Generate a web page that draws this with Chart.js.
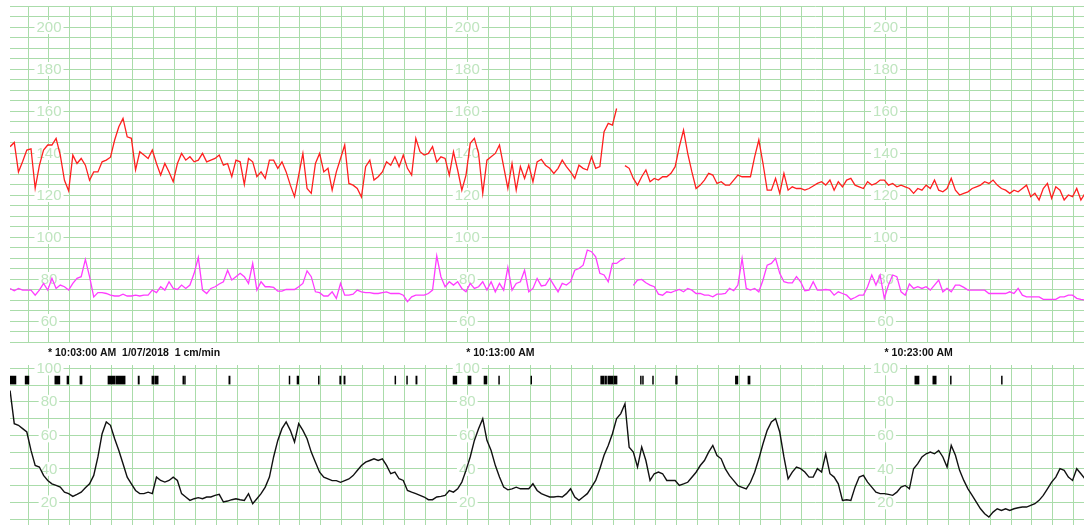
<!DOCTYPE html>
<html>
<head>
<meta charset="utf-8">
<script src="https://cdn.jsdelivr.net/npm/chart.js@4/dist/chart.umd.min.js"></script>
<style>
  html, body { margin: 0; padding: 0; background: #fff; overflow: hidden; }
  #wrap { position: relative; width: 1084px; height: 525px; }
  canvas { position: absolute; left: 0; }
  #hr { top: 0; }
  #uc { top: 343px; }
</style>
</head>
<body>
<div id="wrap">
  <canvas id="hr" width="1084" height="345"></canvas>
  <canvas id="uc" width="1084" height="182"></canvas>
</div>
<script>
// Trace samples: time in minutes after 10:00, one sample every 6 seconds
const sampleStart = 2.07;
const sampleStep = 0.1;

// Fetal heart rate (bpm)
const fhr = [
  143, 145, 131, 136, 141.4, 142, 123.2, 134, 141.4, 143.8,
  143.8, 147, 139, 127, 122, 139, 135, 137.4, 134.2, 127,
  131, 131, 135.8, 136.6, 138, 146.2, 152.5, 156.5, 147.7, 147,
  132, 140.6, 139, 137.4, 141.4, 135, 129.5, 135, 131, 126.3,
  135, 139.8, 136.6, 138.2, 135.8, 136.6, 139.8, 135.8, 136.6, 137.4,
  139, 134.2, 135, 128.7, 136.6, 135.8, 125, 137.4, 135.8, 128.7,
  131, 127.9, 136.6, 136.6, 132.7, 135.8, 131, 124.7, 119.2, 129.5,
  139.8, 123.1, 120.8, 135, 139.8, 131, 132.7, 122.3, 131, 137.4,
  143.8, 125.5, 124.7, 123.1, 119, 133.5, 136.6, 127.1, 128.7, 131,
  135.8, 134.2, 138.2, 133.5, 139, 132.7, 129.5, 147, 140.6, 139,
  139.8, 143, 135.8, 138.2, 137.4, 129.5, 140.6, 131.9, 122.3, 129.5,
  144.6, 147, 139.8, 120.8, 136.6, 138.2, 139.8, 143.8, 133.5, 123.2,
  135, 122.3, 133.5, 127.9, 134.2, 126.3, 135.8, 137, 134.2, 132.7,
  130.3, 132.7, 136.6, 133.5, 131, 127.9, 134.2, 132.7, 131.9, 138.2,
  132.7, 133.5, 150.1, 154.1, 153.3, 161.2, null, 134, 132.7, 127.9,
  124.7, 128.7, 131.9, 126.3, 127.9, 127.1, 128.7, 128.7, 130.3, 133.5,
  143, 150.9, 139.8, 131, 123.1, 124.7, 127.1, 130.3, 129.5, 125.5,
  126.3, 124.7, 124.7, 127.1, 129.5, 128.7, 128.7, 128.7, 138.2, 146.2,
  135, 122.3, 122.3, 127.9, 120.8, 130.3, 122.3, 123.9, 123.1, 123.1,
  122.3, 123.1, 124.3, 125.5, 126.3, 124.7, 127.1, 122.3, 126.3, 123.9,
  127.1, 127.9, 124.7, 123.9, 123.1, 126.3, 124.7, 125.5, 127.1, 127.1,
  124.7, 125.5, 123.9, 124.7, 123.9, 123.1, 120.8, 123.1, 122.3, 124.7,
  123.1, 127.1, 122.3, 121.5, 123.1, 127.9, 122.3, 120, 120.8, 121.5,
  123.1, 123.9, 124.7, 126.3, 125.5, 127.1, 124.7, 123.1, 122.3, 120.8,
  122.3, 121.5, 123.1, 124.7, 119.2, 120.8, 117.6, 123.1, 125.5, 118.4,
  123.9, 122.3, 117.6, 120, 119.2, 123.1, 117.6, 120.8
];

// Maternal heart rate (bpm)
const mhr = [
  75.5, 74.4, 75.5, 74.7, 74.7, 74.7, 72.3, 74.7, 77.9, 74.7,
  80.3, 75.5, 77.1, 76.3, 74.7, 77.9, 80.3, 81.1, 89.3, 81.1,
  71.5, 73.5, 73.5, 73.1, 72.3, 71.9, 71.9, 72.8, 71.9, 71.9,
  72.3, 71.9, 72.3, 72.3, 74.7, 73.5, 76.3, 74.7, 78.7, 75.5,
  75, 77.1, 75.5, 77.1, 82.7, 90.3, 74.7, 73.1, 75.5, 76.3,
  77.6, 78.7, 84.2, 79.5, 81.1, 82.7, 81.1, 77.9, 87.4, 74.7,
  78.7, 76.3, 76.3, 76, 74.2, 74.2, 75, 75, 75, 76.3,
  77.9, 83.9, 81.1, 73.9, 73.5, 71.9, 71.9, 73.9, 70.8, 77.9,
  72.3, 72.3, 72.8, 74.7, 73.9, 73.5, 73.5, 73.1, 73.1, 73.5,
  73.9, 73.1, 73.1, 73.1, 72.3, 69.2, 71.5, 72.3, 72.3, 72.3,
  73.1, 74.7, 91, 81.1, 76.3, 78.7, 77.1, 78.7, 75.5, 73.9,
  77.9, 75.5, 76.3, 78.7, 74.7, 78.7, 73.9, 77.9, 74.7, 85.5,
  74.7, 77.9, 78.7, 84.2, 73.9, 75.5, 80.3, 76.7, 77.1, 80.3,
  77.1, 73.9, 77.9, 77.1, 78.7, 84.2, 85, 86.6, 93.8, 93,
  90.6, 82.7, 81.9, 78.7, 87.4, 87.4, 89, 90, null, 77,
  79.5, 79.8, 78.2, 77.1, 76.3, 72.8, 72.3, 73.9, 73.5, 74.4,
  75, 73.9, 75.5, 74.7, 73.1, 73.1, 72.3, 72.3, 71.5, 72.8,
  72.8, 73.1, 75.5, 74.4, 77.1, 89.8, 75.5, 74.7, 75.5, 73.9,
  79.5, 86.6, 87.4, 89.8, 82.7, 78.7, 78.2, 78.2, 81.1, 78.7,
  74.4, 74.7, 78.7, 74.7, 74.7, 75, 74.7, 72.3, 73.9, 73.1,
  72.3, 70.3, 71.2, 72.3, 72.3, 76.3, 81.9, 77.1, 81.9, 70.8,
  77.1, 81.9, 81.1, 73.9, 72.3, 77.6, 75.5, 76.3, 75.5, 76.3,
  74.7, 77.1, 79.5, 73.9, 75.5, 73.9, 77.1, 77.1, 76, 74.7,
  74.7, 74.7, 74.7, 74.7, 73.1, 73.1, 73.1, 73.1, 73.1, 73.9,
  73.1, 75.5, 72.3, 71.5, 71.5, 71.5, 71.5, 70.3, 70.3, 70.3,
  70.3, 71.5, 71.5, 72.3, 72.3, 70.8, 70.3, 70
];

// Uterine activity (TOCO units)
const toco = [
  86.8, 67, 66, 64, 62, 51, 42.1, 41.1, 36.1, 33.1,
  31.1, 30.1, 29.1, 26.1, 25.2, 23.6, 24.8, 26.1, 28.7, 31.1,
  36.1, 47.1, 61, 68, 66, 58, 51, 43.1, 35.1, 31.1,
  27.1, 25.2, 25.2, 26.1, 25.2, 35.1, 33.1, 32.1, 33.1, 35.1,
  33.1, 25.2, 23.2, 21.2, 22.2, 22.8, 22.2, 23.2, 23.2, 24.2,
  24.8, 20.2, 20.8, 21.6, 22.2, 21.6, 21.2, 25.2, 19.2, 22.2,
  25.2, 29.1, 35.1, 47.1, 57, 64, 68, 63, 56, 67,
  63, 58, 50, 44, 38, 35, 34, 33, 33, 32,
  33, 34, 36, 39, 42, 44, 45, 46, 45, 46,
  42.1, 37.1, 38.1, 34.1, 33.1, 27.1, 26.1, 25.2, 24.2, 23.2,
  21.6, 21.6, 23.2, 23.6, 24.2, 27.1, 26.1, 28.1, 32.1, 39.1,
  47.1, 57, 64, 70, 57, 51, 42.1, 35.1, 29.1, 27.5,
  28.1, 29.1, 28.1, 28.1, 28.1, 31.1, 27.1, 25.2, 24.2, 23.2,
  23.2, 23.6, 23.2, 25.2, 28.1, 23.2, 21.2, 23.2, 25.2, 29.1,
  33.1, 40.1, 48.1, 54, 61, 70, 73, 78.9, 53, 50,
  41.1, 53, 45, 33.1, 37.1, 38.1, 37.1, 33.1, 33.1, 33.1,
  30.1, 31, 32, 35, 38, 42, 45, 50, 54, 48,
  46, 40, 36, 33, 30, 29, 28, 32, 38, 46,
  55, 63, 68, 70, 62, 47.1, 34.1, 38.1, 41.1, 40.1,
  38.1, 35.1, 35.1, 40.1, 38.1, 49, 37.1, 35.1, 31.1, 21.2,
  21.6, 21.2, 29.1, 35.1, 36.1, 32.1, 29.1, 26.1, 25.2, 25.2,
  24.8, 24.2, 26.1, 29.1, 30.1, 28.1, 40.1, 43.1, 47.1, 49,
  50, 49, 51, 47.1, 41.1, 54, 48.1, 39.1, 33.1, 28.1,
  24.2, 20.2, 16.2, 13.2, 11.2, 14.2, 16.2, 15.2, 16.2, 15.2,
  16.2, 16.8, 17.2, 17.2, 18.2, 19.2, 21.2, 24.2, 28.1, 32.1,
  35.1, 40.1, 39.1, 35.1, 33.1, 40.1, 37.1, 34
];

// Fetal movement markers: [start, end] in minutes after 10:00
const movements = [
  [2.07, 2.21], [2.43, 2.52], [3.14, 3.26], [3.43, 3.47], [3.74, 3.79],
  [4.41, 4.58], [4.60, 4.82], [5.13, 5.16], [5.46, 5.51], [5.53, 5.61],
  [6.20, 6.22], [6.24, 6.26], [7.30, 7.33], [8.74, 8.76], [8.93, 8.97],
  [9.44, 9.46], [9.95, 9.98], [10.05, 10.08],
  [11.27, 11.29], [11.55, 11.57], [11.77, 11.80], [12.66, 12.75], [13.02, 13.09],
  [13.40, 13.47], [13.75, 13.77], [14.52, 14.54], [16.19, 16.27], [16.29, 16.33],
  [16.36, 16.49], [16.51, 16.58], [17.14, 17.16], [17.19, 17.21], [17.43, 17.45],
  [17.98, 18.02], [19.41, 19.47], [19.71, 19.76],
  [23.70, 23.80], [24.13, 24.21], [24.55, 24.57], [25.77, 25.79]
];
const movementLevel = 93;

// Axis labels
const hrTickLabels = [60, 80, 100, 120, 140, 160, 180, 200];
const tocoTickLabels = [20, 40, 60, 80, 100];
const annotationMinutes = [3, 13, 23];
const annotationTexts = ['* 10:03:00 AM  1/07/2018  1 cm/min', '* 10:13:00 AM', '* 10:23:00 AM'];

// Visible time window and grid spacing
const xMin = 2.068, xMax = 27.744;
const gridGreen = '#aadcaa';
const labelGreen = '#bfe5bf';
const labelFont = '15px "Liberation Sans", Arial, sans-serif';

function steps(from, to, step) {
  const out = [];
  for (let v = from; v <= to + 1e-9; v += step) out.push({ value: Math.round(v * 1000) / 1000 });
  return out;
}
function toPoints(values) {
  return values.map((v, i) => ({ x: sampleStart + i * sampleStep, y: v }));
}

// Draws the scale numbers in the grid at each annotated minute, on a white patch
const gridLabels = {
  id: 'gridLabels',
  beforeDatasetsDraw(chart, args, opts) {
    const { ctx, scales: { x, y } } = chart;
    ctx.save();
    ctx.font = opts.font;
    ctx.textAlign = 'center';
    ctx.textBaseline = 'middle';
    for (const m of annotationMinutes) {
      const px = x.getPixelForValue(m);
      for (const v of opts.values) {
        const py = y.getPixelForValue(v);
        const w = ctx.measureText(String(v)).width;
        ctx.fillStyle = '#fff';
        ctx.fillRect(px - w / 2 - 2, py - 7, w + 4, 14);
        ctx.fillStyle = labelGreen;
        ctx.fillText(String(v), px, py + 0.5);
      }
    }
    ctx.restore();
  }
};

// Time annotations in the strip above the contraction panel
const timeStrip = {
  id: 'timeStrip',
  afterDraw(chart) {
    const { ctx, scales: { x } } = chart;
    ctx.save();
    ctx.font = 'bold 10.5px "Liberation Sans", Arial, sans-serif';
    ctx.fillStyle = '#111';
    ctx.textAlign = 'left';
    ctx.textBaseline = 'middle';
    annotationMinutes.forEach((m, i) => {
      ctx.fillText(annotationTexts[i], x.getPixelForValue(m) - 1, 10);
    });
    ctx.restore();
  }
};

function xScale() {
  return {
    type: 'linear', min: xMin, max: xMax, offset: false, beginAtZero: false,
    afterBuildTicks: s => { s.ticks = steps(2.5, 27.5, 0.5); },
    afterFit: s => { s.height = 0; },
    ticks: { display: false },
    border: { display: false },
    grid: { color: gridGreen, lineWidth: 1, drawTicks: false, offset: false }
  };
}
function yScale(min, max, from, to, step) {
  return {
    type: 'linear', min, max, offset: false, beginAtZero: false,
    afterBuildTicks: s => { s.ticks = steps(from, to, step); },
    afterFit: s => { s.width = 0; },
    ticks: { display: false },
    border: { display: false },
    grid: { color: gridGreen, lineWidth: 1, drawTicks: false, offset: false }
  };
}

const common = {
  responsive: false,
  animation: false,
  devicePixelRatio: 1,
  events: [],
  elements: { point: { radius: 0 }, line: { tension: 0 } }
};

new Chart(document.getElementById('hr'), {
  type: 'line',
  data: {
    datasets: [
      { label: 'FHR', data: toPoints(fhr), borderColor: '#ff1f1f', borderWidth: 1.3, spanGaps: false },
      { label: 'MHR', data: toPoints(mhr), borderColor: '#ff3cff', borderWidth: 1.3, spanGaps: false }
    ]
  },
  options: Object.assign({}, common, {
    layout: { padding: { left: 10, right: 0, top: 6, bottom: 3 } },
    scales: { x: xScale(), y: yScale(50, 210, 50, 210, 5) },
    plugins: {
      legend: { display: false }, tooltip: { enabled: false },
      gridLabels: { values: hrTickLabels, font: labelFont }
    }
  }),
  plugins: [gridLabels]
});

new Chart(document.getElementById('uc'), {
  type: 'line',
  data: {
    datasets: [
      { label: 'TOCO', data: toPoints(toco), borderColor: '#111', borderWidth: 1.4 },
      {
        type: 'bar', label: 'Movements', indexAxis: 'y',
        data: movements.map(r => ({ x: r, y: movementLevel })),
        backgroundColor: '#000', barThickness: 8, borderWidth: 0, grouped: false
      }
    ]
  },
  options: Object.assign({}, common, {
    layout: { padding: { left: 10, right: 0, top: 22, bottom: 0 } },
    scales: { x: xScale(), y: yScale(6.5, 102, 10, 100, 10) },
    plugins: {
      legend: { display: false }, tooltip: { enabled: false },
      gridLabels: { values: tocoTickLabels, font: labelFont }
    }
  }),
  plugins: [gridLabels, timeStrip]
});
</script>
</body>
</html>
